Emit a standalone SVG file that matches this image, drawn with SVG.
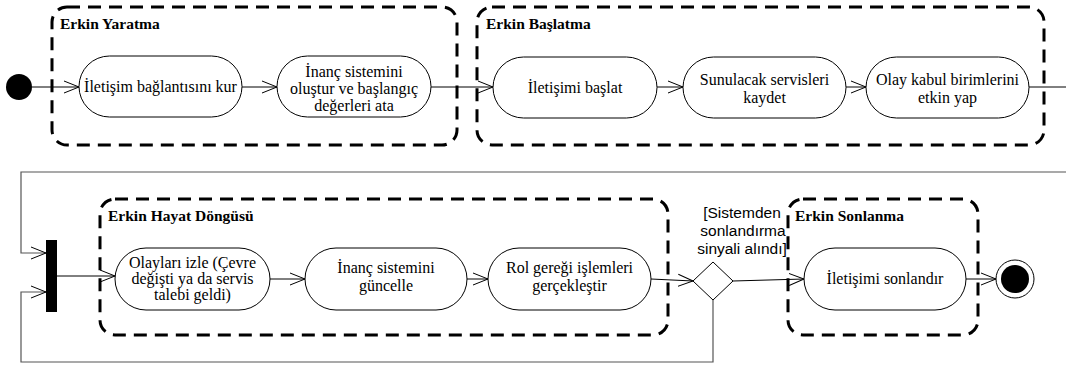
<svg xmlns="http://www.w3.org/2000/svg" width="1066" height="365" viewBox="0 0 1066 365">
<style>
.grp{fill:none;stroke:#000;stroke-width:3;stroke-dasharray:13 8}
.act{fill:#fff;stroke:#000;stroke-width:1}
.t{font-size:16px;fill:#000;text-anchor:middle}
.lbl{font-size:15.5px;font-weight:bold;fill:#000}
.g{font-size:15.5px;fill:#000;text-anchor:middle}
.c{fill:none;stroke:#000;stroke-width:1}
.lp{fill:none;stroke:#555;stroke-width:1.2}
</style>
<defs>
<marker id="a" markerWidth="17" markerHeight="14" refX="15" refY="7" orient="auto" markerUnits="userSpaceOnUse">
<path d="M0,1 L15,7 L0,13" fill="none" stroke="#000" stroke-width="1"/>
</marker>
</defs>
<g font-family="Liberation Serif, Times New Roman, serif">
<g id="group-yaratma"><rect class="grp" x="52" y="7" width="405" height="138" rx="15"/><text class="lbl" x="60" y="29">Erkin Yaratma</text></g>
<g id="group-baslatma"><rect class="grp" x="477" y="7" width="567" height="138" rx="15"/><text class="lbl" x="486" y="29">Erkin Başlatma</text></g>
<g id="group-hayat"><rect class="grp" x="100" y="199" width="568" height="136" rx="15"/><text class="lbl" x="108" y="221">Erkin Hayat Döngüsü</text></g>
<g id="group-sonlanma"><rect class="grp" x="788" y="199" width="190" height="136" rx="15"/><text class="lbl" x="795" y="221">Erkin Sonlanma</text></g>
<g id="connectors">
<line class="c" x1="32" y1="87" x2="79" y2="87" marker-end="url(#a)"/>
<line class="c" x1="242" y1="87" x2="277" y2="87" marker-end="url(#a)"/>
<line class="c" x1="431" y1="87" x2="493" y2="87" marker-end="url(#a)"/>
<line class="c" x1="657" y1="87" x2="683" y2="87" marker-end="url(#a)"/>
<line class="c" x1="846" y1="87" x2="866" y2="87" marker-end="url(#a)"/>
<line class="c" x1="1029" y1="87" x2="1066" y2="87"/>
<polyline class="lp" points="1066,172 21,172 21,253 46,253" marker-end="url(#a)"/>
<line class="c" x1="57" y1="276" x2="115" y2="276" marker-end="url(#a)"/>
<line class="c" x1="270" y1="279" x2="305" y2="279" marker-end="url(#a)"/>
<line class="c" x1="467" y1="279" x2="488" y2="279" marker-end="url(#a)"/>
<line class="c" x1="651" y1="279" x2="693" y2="281" marker-end="url(#a)"/>
<line class="c" x1="733" y1="281" x2="804" y2="279" marker-end="url(#a)"/>
<line class="c" x1="966" y1="279" x2="996" y2="279" marker-end="url(#a)"/>
<polyline class="lp" points="713,300 713,362 21,362 21,292 46,292" marker-end="url(#a)"/>
</g>
<g id="initial"><circle cx="19" cy="87" r="13" fill="#000"/></g>
<g id="n1"><rect class="act" x="79" y="56" width="163" height="61" rx="30.5"/><text class="t" x="160.5" y="92">İletişim bağlantısını kur</text></g>
<g id="n2"><rect class="act" x="277" y="56" width="154" height="61" rx="30.5"/><text class="t" x="354" y="77">İnanç sistemini</text><text class="t" x="354" y="94">oluştur ve başlangıç</text><text class="t" x="354" y="111">değerleri ata</text></g>
<g id="n3"><rect class="act" x="493" y="57" width="164" height="61" rx="30.5"/><text class="t" x="575" y="93">İletişimi başlat</text></g>
<g id="n4"><rect class="act" x="683" y="57" width="163" height="61" rx="30.5"/><text class="t" x="764.5" y="85">Sunulacak servisleri</text><text class="t" x="764.5" y="103">kaydet</text></g>
<g id="n5"><rect class="act" x="866" y="57" width="163" height="61" rx="30.5"/><text class="t" x="947.5" y="85">Olay kabul birimlerini</text><text class="t" x="947.5" y="103">etkin yap</text></g>
<g id="fork"><rect x="46" y="240" width="11" height="72" fill="#000"/></g>
<g id="n6"><rect class="act" x="115" y="248" width="155" height="62" rx="31"/><text class="t" x="192.5" y="268">Olayları izle (Çevre</text><text class="t" x="192.5" y="284">değişti ya da servis</text><text class="t" x="192.5" y="300">talebi geldi)</text></g>
<g id="n7"><rect class="act" x="305" y="248" width="162" height="62" rx="31"/><text class="t" x="386" y="273">İnanç sistemini</text><text class="t" x="386" y="291">güncelle</text></g>
<g id="n8"><rect class="act" x="488" y="248" width="163" height="62" rx="31"/><text class="t" x="569.5" y="273">Rol gereği işlemleri</text><text class="t" x="569.5" y="291">gerçekleştir</text></g>
<g id="decision"><polygon points="713,262 733,281 713,300 693,281" fill="#fff" stroke="#000" stroke-width="1"/>
<g font-family="Liberation Sans, Arial, sans-serif"><text class="g" x="742" y="218">[Sistemden</text><text class="g" x="743" y="236">sonlandırma</text><text class="g" x="742" y="254">sinyali alındı]</text></g></g>
<g id="n9"><rect class="act" x="804" y="248" width="162" height="62" rx="31"/><text class="t" x="885" y="284">İletişimi sonlandır</text></g>
<g id="final"><circle cx="1015" cy="279" r="19" fill="#fff" stroke="#000" stroke-width="1"/><circle cx="1015" cy="279" r="14" fill="#000"/></g>
</g>
</svg>
